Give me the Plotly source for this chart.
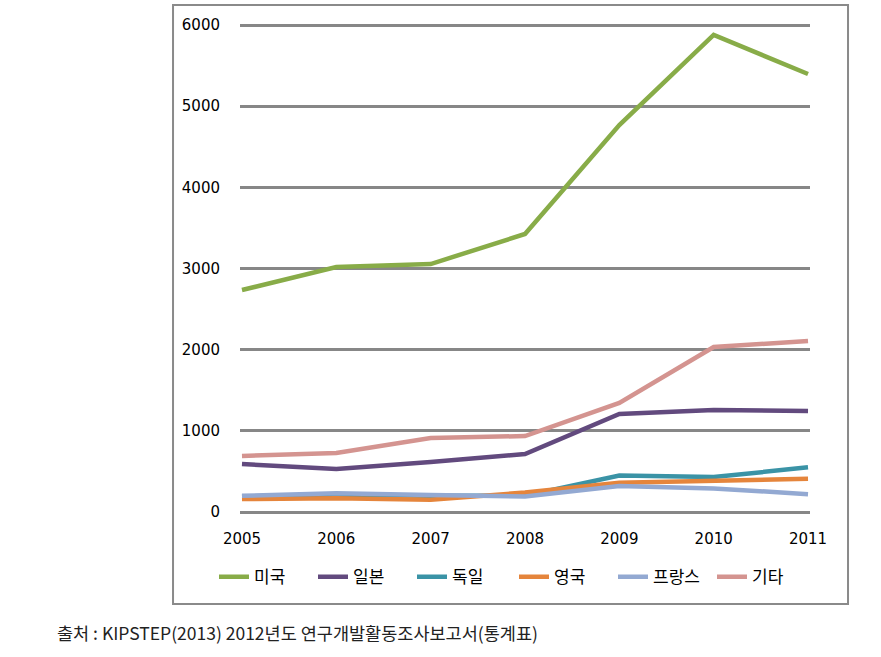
import plotly.graph_objects as go

years = [2005, 2006, 2007, 2008, 2009, 2010, 2011]
series_names = ["미국", "일본", "독일", "영국", "프랑스", "기타"]
usa = [2735, 3018, 3055, 3425, 4768, 5877, 5396]
japan = [591, 530, 616, 714, 1207, 1257, 1244]
germany = [190, 215, 200, 200, 450, 430, 550]
uk = [160, 170, 150, 240, 360, 390, 410]
france = [200, 230, 210, 190, 320, 290, 220]
others = [690, 727, 912, 936, 1343, 2033, 2107]
y_ticks = [0, 1000, 2000, 3000, 4000, 5000, 6000]
source_text = "출처 : KIPSTEP(2013) 2012년도 연구개발활동조사보고서(통계표)"

values = [usa, japan, germany, uk, france, others]
colors = ["#88AC48", "#624A7E", "#3A93A6", "#E5853C", "#93A9D2", "#D49490"]
legend_groups = ["legend", "legend", "legend", "legend2", "legend2", "legend2"]

fig = go.Figure()
for name, vals, col, lg in zip(series_names, values, colors, legend_groups):
    fig.add_trace(go.Scatter(x=years, y=vals, name=name, mode="lines", legend=lg,
                             line=dict(color=col, width=4.5)))

font_fam = "DejaVu Sans, Noto Sans CJK KR, sans-serif"
leg_common = dict(orientation="h", xanchor="left", y=-0.121, yanchor="middle",
                  bgcolor="rgba(0,0,0,0)",
                  font=dict(family="Noto Sans CJK KR, sans-serif", size=17, color="#000"),
                  itemwidth=30, tracegroupgap=0, entrywidth=54, entrywidthmode="pixels")
fig.update_layout(
    width=881, height=657,
    margin=dict(l=240, r=71, t=20, b=140),
    paper_bgcolor="white", plot_bgcolor="white",
    font=dict(family=font_fam, size=15, color="#000"),
    showlegend=True,
    legend=dict(x=(214 - 240) / 570, **leg_common),
    legend2=dict(x=(514 - 240) / 570, **leg_common),
    xaxis=dict(range=[2004.979, 2011.021], tickvals=years, ticktext=[str(y) for y in years],
               showgrid=False, zeroline=False, showline=False, ticks="outside", ticklen=8,
               tickcolor="rgba(0,0,0,0)", tickfont=dict(size=15)),
    yaxis=dict(range=[-61.6, 6061.6], tickvals=y_ticks, showgrid=True, gridcolor="#878787",
               gridwidth=3, zeroline=False, showline=False, ticks="outside", ticklen=16,
               tickcolor="rgba(0,0,0,0)", tickfont=dict(size=15)),
    shapes=[dict(type="rect", xref="paper", yref="paper", x0=-0.1175, x1=1.0667,
                 y0=-0.175, y1=1.0302, line=dict(color="#8A8A8A", width=2), layer="below")],
    annotations=[dict(text=source_text, xref="paper", yref="paper", x=-0.3246, y=-0.2334,
                      xanchor="left", yanchor="middle", showarrow=False,
                      font=dict(family="Noto Sans CJK KR, sans-serif", size=17.5, color="#222"))],
)
fig.write_html("out.html")
